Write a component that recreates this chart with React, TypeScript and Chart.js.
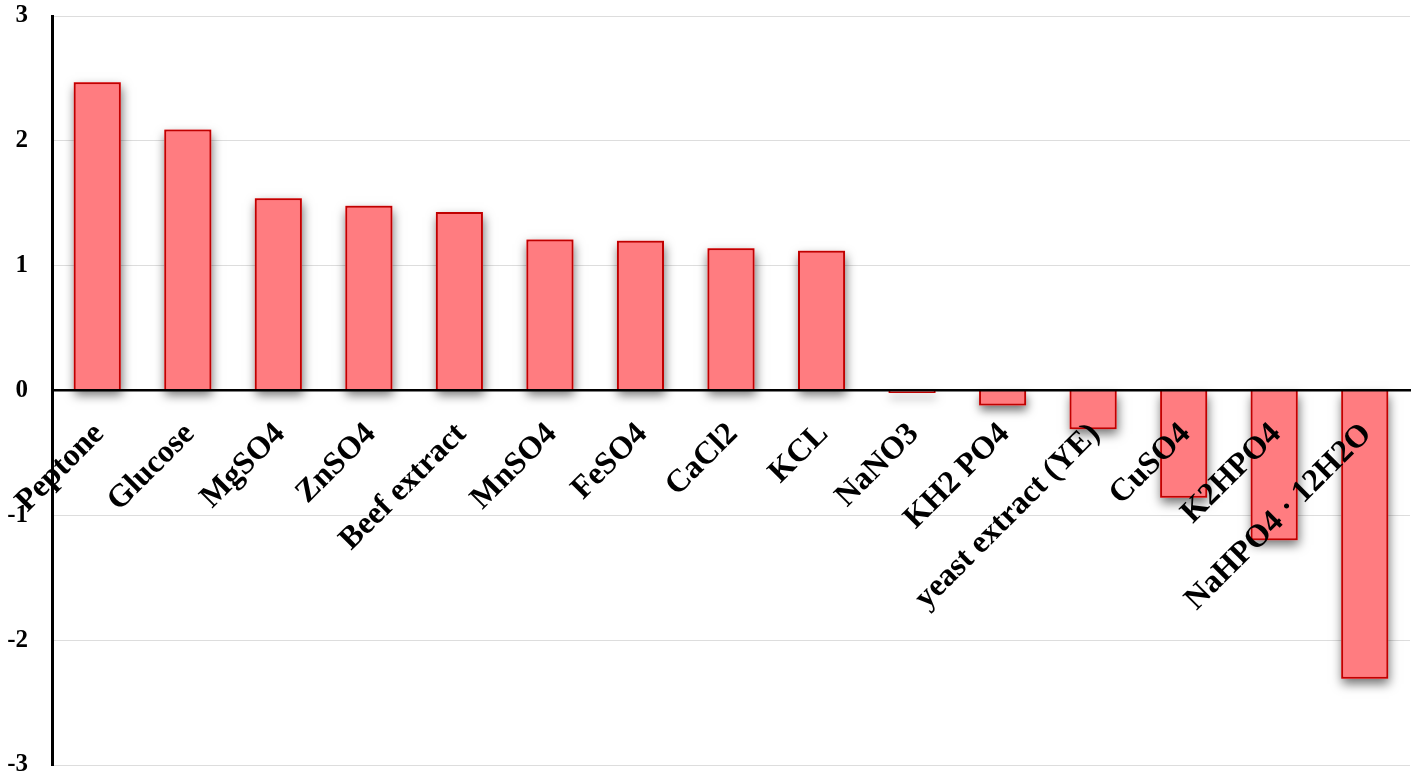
import React, { useEffect, useRef } from "react";
import { Chart, registerables } from "chart.js";

Chart.register(...registerables);

const categories: string[] = [
  "Peptone",
  "Glucose",
  "MgSO4",
  "ZnSO4",
  "Beef extract",
  "MnSO4",
  "FeSO4",
  "CaCl2",
  "KCL",
  "NaNO3",
  "KH2 PO4",
  "yeast extract (YE)",
  "CuSO4",
  "K2HPO4",
  "NaHPO4 · 12H2O",
];

const effects: number[] = [
  2.47, 2.09, 1.54, 1.48, 1.43, 1.21, 1.2, 1.14, 1.12, -0.02, -0.12, -0.31, -0.86, -1.2, -2.31,
];

const yMin = -3;
const yMax = 3;

const shadowPlugin = {
  id: "barShadow",
  beforeDatasetDraw(chart: any, args: any) {
    const ctx = chart.ctx;
    const meta = args.meta;
    ctx.save();
    ctx.shadowColor = "rgba(0,0,0,0.55)";
    ctx.shadowBlur = 10;
    ctx.shadowOffsetX = 1;
    ctx.shadowOffsetY = 5;
    ctx.fillStyle = "#FF7C80";
    meta.data.forEach((el: any) => {
      const top = Math.min(el.y, el.base);
      const h = Math.abs(el.base - el.y);
      ctx.fillRect(el.x - el.width / 2, top, el.width, Math.max(h, 1));
    });
    ctx.restore();
  },
};

export default function App() {
  const canvasRef = useRef<HTMLCanvasElement | null>(null);

  useEffect(() => {
    if (!canvasRef.current) return;
    const chart = new Chart(canvasRef.current, {
      type: "bar",
      data: {
        labels: categories,
        datasets: [
          {
            data: effects,
            backgroundColor: "#FF7C80",
            borderColor: "#C00000",
            borderWidth: 2,
            categoryPercentage: 1,
            barPercentage: 0.52,
          },
        ],
      },
      plugins: [shadowPlugin],
      options: {
        animation: false,
        responsive: true,
        maintainAspectRatio: false,
        layout: { padding: { top: 16, bottom: 16, right: 8, left: 0 } },
        plugins: {
          legend: { display: false },
          tooltip: { enabled: false },
        },
        scales: {
          x: {
            position: { y: 0 } as any,
            grid: { display: false, drawTicks: false },
            border: { display: true, color: "#000000", width: 2.5, z: 1 } as any,
            ticks: {
              z: 1,
              autoSkip: false,
              minRotation: 45,
              maxRotation: 45,
              padding: 25,
              labelOffset: 2,
              color: "#000000",
              font: { family: "'Liberation Serif', 'Times New Roman', serif", size: 32, weight: "bold" },
            },
            afterFit(scale: any) {
              scale.paddingLeft = 0;
              scale.paddingRight = 0;
              scale.paddingTop = 0;
              scale.paddingBottom = 0;
            },
          },
          y: {
            min: yMin,
            max: yMax,
            grid: { color: "#DDDDDD", lineWidth: 1, drawTicks: false },
            border: { display: true, color: "#000000", width: 3 },
            ticks: {
              stepSize: 1,
              padding: 24,
              color: "#000000",
              font: { family: "'Liberation Serif', 'Times New Roman', serif", size: 25, weight: "bold" },
            },
            afterFit(scale: any) {
              scale.width = 52;
              scale.paddingTop = 0;
              scale.paddingBottom = 0;
              scale.paddingLeft = 0;
              scale.paddingRight = 0;
            },
          },
        },
      },
    });
    return () => chart.destroy();
  }, []);

  return (
    <div style={{ position: "absolute", left: 0, top: 0, width: 1418, height: 781, background: "#ffffff" }}>
      <canvas ref={canvasRef} />
    </div>
  );
}
